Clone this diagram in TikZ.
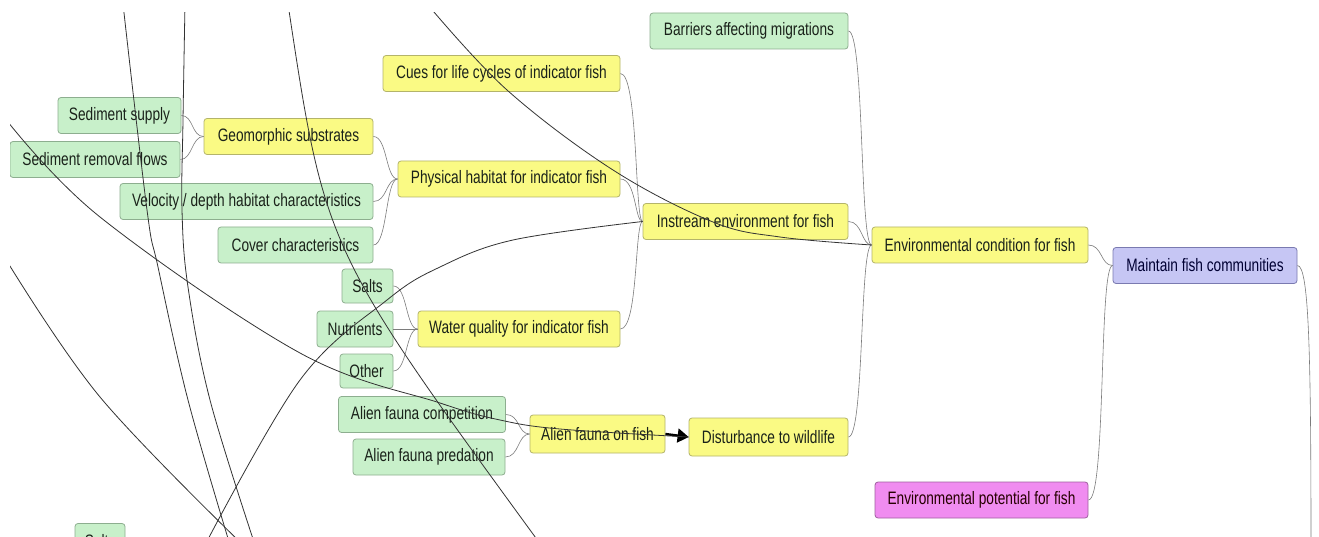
\documentclass[tikz,border=0pt]{standalone}
\usepackage{fontspec}
\setmainfont{Liberation Sans}[FakeStretch=0.76]
\usetikzlibrary{arrows.meta}
\definecolor{gfill}{HTML}{C8F0CA}
\definecolor{gdraw}{HTML}{8DAE8F}
\definecolor{yfill}{HTML}{FAFA84}
\definecolor{ydraw}{HTML}{B4B46A}
\definecolor{pfill}{HTML}{C6C6F4}
\definecolor{pdraw}{HTML}{7A7AB0}
\definecolor{mfill}{HTML}{F08CF0}
\definecolor{mdraw}{HTML}{A060A0}
\definecolor{conncol}{HTML}{7C7C7C}
\definecolor{txt}{HTML}{1A221A}
\begin{document}
\begin{tikzpicture}[x=1pt,y=-1pt,
  box/.style={rounded corners=3pt, line width=0.8pt, minimum height=36pt, inner sep=0pt,
              font=\fontsize{18}{20}\selectfont, text=txt},
  gbox/.style={box, fill=gfill, draw=gdraw},
  ybox/.style={box, fill=yfill, draw=ydraw},
  pbox/.style={box, fill=pfill, draw=pdraw, text=black!80!blue},
  mbox/.style={box, fill=mfill, draw=mdraw, text=black!85!red},
  conn/.style={draw=conncol, line width=0.6pt},
  longln/.style={draw=black!80, line width=0.8pt}]
\useasboundingbox (0,0) rectangle (1319,537);
\fill[white] (0,0) rectangle (1319,537);
\begin{scope}
\clip (10,13) rectangle (1319,537);
% nodes
\node[gbox, minimum width=123] (sedsup) at (119.5,115.5) {Sediment supply};
\node[gbox, minimum width=170] (sedrem) at (95,159.5) {Sediment removal flows};
\node[ybox, minimum width=169] (geo) at (288.5,136.5) {Geomorphic substrates};
\node[gbox, minimum width=253] (vel) at (246.5,201.5) {Velocity / depth habitat characteristics};
\node[gbox, minimum width=155] (cover) at (295.5,245) {Cover characteristics};
\node[ybox, minimum width=237] (cues) at (501.5,73.5) {Cues for life cycles of indicator fish};
\node[ybox, minimum width=222] (phys) at (509,179) {Physical habitat for indicator fish};
\node[gbox, minimum width=198] (barr) at (749,31) {Barriers affecting migrations};
\node[ybox, minimum width=205] (inst) at (745.5,221.5) {Instream environment for fish};
\node[ybox, minimum width=216] (envc) at (980,245) {Environmental condition for fish};
\node[pbox, minimum width=184] (maint) at (1205,265.5) {Maintain fish communities};
\node[mbox, minimum width=213] (envp) at (981.5,500) {Environmental potential for fish};
\node[gbox, minimum width=51, minimum height=34pt] (salts) at (367.5,286) {Salts};
\node[gbox, minimum width=76] (nutr) at (355,329) {Nutrients};
\node[gbox, minimum width=53, minimum height=34pt] (other) at (366.5,371) {Other};
\node[ybox, minimum width=202] (wq) at (519,329) {Water quality for indicator fish};
\node[gbox, minimum width=167] (acomp) at (422,414.5) {Alien fauna competition};
\node[gbox, minimum width=152] (apred) at (429,457) {Alien fauna predation};
\node[ybox, minimum width=135, minimum height=38pt] (aof) at (597.5,434) {Alien fauna on fish};
\node[ybox, minimum width=159, minimum height=38pt] (dist) at (768.5,437) {Disturbance to wildlife};
\node[gbox, minimum width=50, minimum height=35pt] (saltsb) at (100,541) {Salts};
% tree connectors
\draw[conn] (sedsup.east) .. controls +(12,0) and +(-12,0) .. (geo.west);
\draw[conn] (sedrem.east) .. controls +(12,0) and +(-12,0) .. (geo.west);
\draw[conn] (geo.east) .. controls +(14,0) and +(-12,0) .. (phys.west);
\draw[conn] (vel.east) .. controls +(14,0) and +(-12,0) .. (phys.west);
\draw[conn] (cover.east) .. controls +(14,0) and +(-12,0) .. (phys.west);
\draw[conn] (cues.east) .. controls +(18,0) and +(-8,0) .. (inst.west);
\draw[conn] (phys.east) .. controls +(16,0) and +(-8,0) .. (inst.west);
\draw[conn] (wq.east) .. controls +(18,0) and +(-8,0) .. (inst.west);
\draw[conn] (salts.east) .. controls +(14,0) and +(-12,0) .. (wq.west);
\draw[conn] (nutr.east) -- (wq.west);
\draw[conn] (other.east) .. controls +(14,0) and +(-12,0) .. (wq.west);
\draw[conn] (acomp.east) .. controls +(14,0) and +(-12,0) .. (aof.west);
\draw[conn] (apred.east) .. controls +(14,0) and +(-12,0) .. (aof.west);
\draw[conn] (barr.east) .. controls +(16,0) and +(-12,0) .. (envc.west);
\draw[conn] (inst.east) .. controls +(14,0) and +(-10,0) .. (envc.west);
\draw[conn] (dist.east) .. controls +(16,0) and +(-12,0) .. (envc.west);
\draw[conn] (envc.east) .. controls +(14,0) and +(-12,0) .. (maint.west);
\draw[conn] (envp.east) .. controls +(18,0) and +(-14,0) .. (maint.west);
\coordinate (m0) at (1311,560);
\draw[conn] (maint.east) .. controls +(12,0) and +(0,-200) .. (m0);
% thick arrow
\draw[line width=2.4pt, -{Triangle[length=11pt,width=14pt]}] (aof.east) -- (dist.west);
% long links
\coordinate (a0) at (123,4);
\coordinate (a1) at (230,545);
\coordinate (b0) at (185,4);
\coordinate (b1) at (255,545);
\coordinate (c0) at (288,4);
\coordinate (c1) at (541,545);
\coordinate (d0) at (428,5);
\coordinate (e0) at (4,117);
\coordinate (f0) at (5,258);
\coordinate (f1) at (243,545);
\coordinate (g0) at (205,545);
\draw[longln] plot[smooth, tension=0.6] coordinates {(a0) (147,210) (158,267) (188,400) (a1)};
\draw[longln] plot[smooth, tension=0.6] coordinates {(b0) (183,120) (182,210) (188,287) (210,400) (b1)};
\draw[longln] (c0) .. controls (325,249) .. (c1);
\draw[longln] plot[smooth, tension=0.6] coordinates {(d0) (507,90) (613,170) (713,222) (780,237) (envc.west)};
\draw[longln] plot[smooth, tension=0.6] coordinates {(e0) (100,217) (300,353) (440,403) (500,420) (560,429) (dist.west)};
\draw[longln] plot[smooth, tension=0.6] coordinates {(f0) (100,397) (f1)};
\draw[longln] plot[smooth, tension=0.6] coordinates {(g0) (300,380) (387,300) (440,267) (513,240) (inst.west)};
\end{scope}
\end{tikzpicture}
\end{document}
